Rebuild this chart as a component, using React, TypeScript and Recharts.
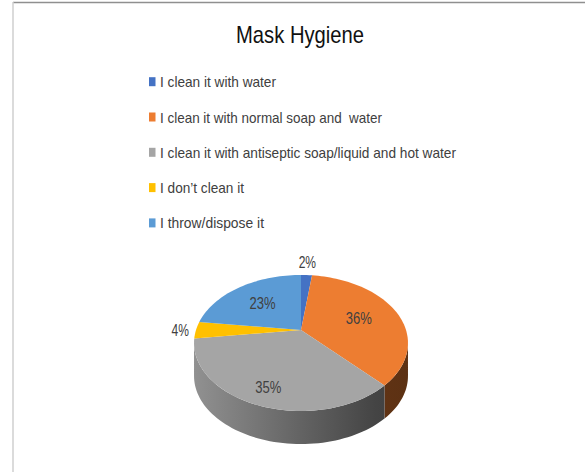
import { PieChart, Pie, Cell } from 'recharts';

const categories = [
  'I clean it with water',
  'I clean it with normal soap and  water',
  'I clean it with antiseptic soap/liquid and hot water',
  'I don\u2019t clean it',
  'I throw/dispose it',
];
const shares = [2, 36, 35, 4, 23];
const sliceColors = ['#4472C4', '#ED7D31', '#A5A5A5', '#FFC000', '#5B9BD5'];

// layout
const W = 585;
const H = 472;
const legendTextWidths = [116, 222, 296, 84, 104];
const TILT = 0.624; // vertical squash of the pie plane
const PERSP = 0.191; // perspective strength (far side smaller)
const DEPTH = 0.315; // wall height relative to radius
const FONT = "'Liberation Sans', Arial, sans-serif";

const chartData = categories.map((name, i) => ({ name, value: shares[i] }));

const RAD = Math.PI / 180;
// point of the pie plane at angle deg and radius fraction k, seen in perspective
const project = (cx: number, cy: number, r: number, deg: number, k = 1) => {
  const a = deg * RAD;
  const s = Math.sin(a);
  const d = 1 + PERSP * k * s;
  return [cx + (r * k * Math.cos(a)) / d, cy - (r * TILT * k * s) / d];
};

const shade = (hex: string, f: number) => {
  const n = parseInt(hex.slice(1), 16);
  const c = [(n >> 16) & 255, (n >> 8) & 255, n & 255].map((v) => Math.round(v * f));
  return `rgb(${c.join(',')})`;
};

const arcPoints = (cx: number, cy: number, r: number, from: number, to: number, dy = 0) => {
  const steps = Math.max(2, Math.ceil(Math.abs(to - from) / 2));
  const pts: string[] = [];
  for (let i = 0; i <= steps; i++) {
    const [x, y] = project(cx, cy, r, from + ((to - from) * i) / steps);
    pts.push(`${x.toFixed(2)},${(y + dy).toFixed(2)}`);
  }
  return pts;
};

// visible part of the side wall lies between the two silhouette points
const SIL = Math.asin(PERSP) / RAD;

const Slice3D = (props: any) => {
  const { cx, cy, outerRadius, startAngle, endAngle, fill } = props;
  const r = outerRadius;
  const depth = r * DEPTH;
  const top = `M${cx},${cy} L${arcPoints(cx, cy, r, startAngle, endAngle).join(' L')} Z`;

  const lo = Math.max(Math.min(startAngle, endAngle), -180 + SIL);
  const hi = Math.min(Math.max(startAngle, endAngle), -SIL);
  const id = `wall-${Math.round(startAngle * 100)}`;
  let wall = null;
  if (hi > lo) {
    const upper = arcPoints(cx, cy, r, hi, lo);
    const lower = arcPoints(cx, cy, r, lo, hi, depth);
    const half = r * 1.02;
    wall = (
      <g>
        <defs>
          <linearGradient id={id} gradientUnits="userSpaceOnUse" x1={cx - half} y1={0} x2={cx + half} y2={0}>
            <stop offset="0" stopColor={shade(fill, 0.88)} />
            <stop offset="0.5" stopColor={shade(fill, 0.6)} />
            <stop offset="0.85" stopColor={shade(fill, 0.41)} />
            <stop offset="1" stopColor={shade(fill, 0.39)} />
          </linearGradient>
        </defs>
        <path d={`M${upper.join(' L')} L${lower.join(' L')} Z`} fill={`url(#${id})`} />
      </g>
    );
  }
  return (
    <g>
      {wall}
      <path d={top} fill={fill} />
    </g>
  );
};

const renderLabel = (props: any) => {
  const { cx, cy, outerRadius, midAngle, percent } = props;
  const text = `${Math.round(percent * 100)}%`;
  const w = text.length * 8.7;
  const h = 12;
  const s = Math.sin(midAngle * RAD);
  const c = Math.cos(midAngle * RAD);
  let x: number;
  let y: number;
  if (percent < 0.05) {
    const [ex, ey] = project(cx, cy, outerRadius, midAngle, 1);
    const off = 7 + (Math.abs(c) * w) / 2 + (Math.abs(s) * h) / 2;
    x = ex + c * off;
    y = ey - s * off;
  } else {
    const k = 0.6 + 0.2 * Math.max(0, -s);
    [x, y] = project(cx, cy, outerRadius, midAngle, k);
  }
  return (
    <text
      x={x}
      y={y + 6}
      textAnchor="middle"
      fill="#404040"
      fontSize={16}
      fontFamily={FONT}
      textLength={w}
      lengthAdjust="spacingAndGlyphs"
    >
      {text}
    </text>
  );
};

const Overlay = () => (
  <svg width={W} height={H} style={{ position: 'absolute', left: 0, top: 0, pointerEvents: 'none' }}>
    <line x1={13} y1={2.5} x2={W} y2={2.5} stroke="#8f8f8f" strokeWidth={1.5} />
    <line x1={13} y1={2} x2={13} y2={H} stroke="#cfcfcf" strokeWidth={1.5} />
    <text x={300} y={43} textAnchor="middle" fontSize={24} fill="#111" fontFamily={FONT} textLength={128} lengthAdjust="spacingAndGlyphs">
      Mask Hygiene
    </text>
    {categories.map((name, i) => {
      const yc = 81.7 + i * 35.3;
      return (
        <g key={name}>
          <rect x={149} y={yc - 4.5} width={6.5} height={9} fill={sliceColors[i]} />
          <text
            x={160}
            y={yc + 5.5}
            fontSize={15}
            fill="#404040"
            fontFamily={FONT}
            textLength={legendTextWidths[i]}
            lengthAdjust="spacingAndGlyphs"
            style={{ whiteSpace: 'pre' }}
          >
            {name}
          </text>
        </g>
      );
    })}
  </svg>
);

export default function App() {
  return (
    <div style={{ position: 'absolute', left: 0, top: 0, width: W, height: H, background: '#fff' }}>
      <PieChart width={W} height={H} margin={{ top: 0, right: 0, bottom: 0, left: 0 }}>
        <Pie
          data={chartData}
          dataKey="value"
          nameKey="name"
          cx={301}
          cy={330}
          outerRadius={105}
          startAngle={90}
          endAngle={-270}
          stroke="none"
          shape={Slice3D}
          activeShape={Slice3D}
          inactiveShape={Slice3D}
          label={renderLabel}
          labelLine={false}
          isAnimationActive={false}
        >
          {chartData.map((d, i) => (
            <Cell key={d.name} fill={sliceColors[i]} />
          ))}
        </Pie>
      </PieChart>
      <Overlay />
    </div>
  );
}
